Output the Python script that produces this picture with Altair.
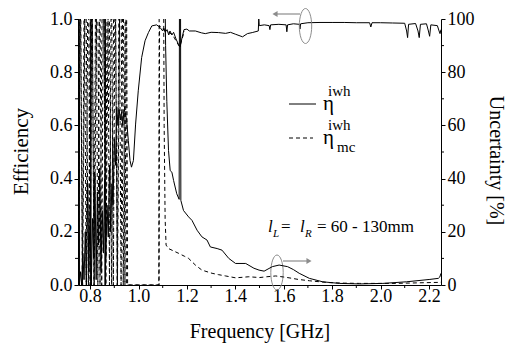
import altair as alt
import pandas as pd

W, H = 363, 266
FONT = "Liberation Serif, DejaVu Serif, serif"
GRAY = "#8c8c8c"

# ---------------- axis ticks ----------------
x_major = [0.8, 1.0, 1.2, 1.4, 1.6, 1.8, 2.0, 2.2]
x_minor = [0.9, 1.1, 1.3, 1.5, 1.7, 1.9, 2.1]
eff_major = [0.0, 0.2, 0.4, 0.6, 0.8, 1.0]
eff_minor = [0.1, 0.3, 0.5, 0.7, 0.9]
unc_major = [0, 20, 40, 60, 80, 100]
unc_minor = [10, 30, 50, 70, 90]

# ---------------- efficiency (solid) ----------------
eta_f = [0.750, 0.755, 0.760, 0.765, 0.770, 0.775, 0.780, 0.785, 0.790, 0.795,
         0.800, 0.805, 0.810, 0.815, 0.820, 0.825, 0.830, 0.835, 0.840, 0.845,
         0.850, 0.855, 0.860, 0.865, 0.870, 0.875, 0.880, 0.885, 0.890, 0.895,
         0.900, 0.905, 0.910, 0.915, 0.920, 0.925, 0.930, 0.935, 0.940, 0.945,
         0.951, 0.958, 0.965, 0.971, 0.979, 0.988, 0.999, 1.013, 1.027, 1.041,
         1.055, 1.075, 1.089, 1.100, 1.105, 1.110, 1.118, 1.125, 1.130, 1.138,
         1.145, 1.155, 1.165, 1.172, 1.180, 1.188, 1.200, 1.210, 1.235, 1.260,
         1.276, 1.300, 1.330, 1.360, 1.380, 1.400, 1.430, 1.450, 1.470, 1.495,
         1.497, 1.499, 1.520, 1.540, 1.543, 1.546, 1.580, 1.610, 1.613, 1.616,
         1.640, 1.665, 1.667, 1.670, 1.700, 1.750, 1.800, 1.850, 1.900, 1.955,
         1.960, 1.965, 2.000, 2.050, 2.100, 2.108, 2.112, 2.116, 2.145, 2.155,
         2.160, 2.165, 2.190, 2.198, 2.203, 2.208, 2.235, 2.242, 2.246, 2.250]
eta_v = [1.00, 0.00, 0.05, 0.00, 0.12, 0.02, 0.20, 0.00, 0.38, 0.05,
         0.30, 0.00, 0.25, 0.10, 0.42, 0.02, 0.35, 0.15, 0.44, 0.05,
         0.28, 0.12, 0.40, 0.10, 0.30, 0.18, 0.45, 0.20, 0.38, 0.30,
         0.55, 0.45, 0.67, 0.60, 0.66, 0.62, 0.65, 0.60, 0.66, 0.65,
         0.618, 0.543, 0.468, 0.443, 0.468, 0.605, 0.730, 0.855, 0.918, 0.949,
         0.974, 0.978, 0.968, 0.955, 0.965, 0.950, 0.960, 0.940, 0.955, 0.940,
         0.950, 0.925, 0.905, 0.895, 0.930, 0.960, 0.962, 0.955, 0.955, 0.948,
         0.945, 0.950, 0.949, 0.946, 0.950, 0.943, 0.933, 0.945, 0.949, 0.955,
         1.000, 0.975, 0.978, 0.975, 0.960, 0.978, 0.980, 0.978, 0.952, 0.978,
         0.982, 0.980, 0.962, 0.982, 0.986, 0.987, 0.987, 0.987, 0.986, 0.986,
         0.970, 0.986, 0.986, 0.985, 0.984, 0.955, 0.930, 0.980, 0.983, 0.955,
         0.930, 0.980, 0.982, 0.955, 0.935, 0.978, 0.975, 0.955, 0.945, 0.960]

# ---------------- efficiency mc (dashed) ----------------
etamc_f = [0.752, 0.760, 0.768, 0.776, 0.784, 0.792, 0.800, 0.808, 0.816, 0.824,
           0.832, 0.840, 0.848, 0.856, 0.864, 0.872, 0.880, 0.888, 0.896, 0.904,
           0.912, 0.920, 0.928, 0.936, 0.944, 0.950, 0.955, 1.085, 1.087, 1.100,
           1.120, 1.140, 1.160, 1.170, 1.190]
etamc_v = [0.0, 1.3, 0.0, 1.2, 0.0, 1.4, 0.0, 1.25, 0.0, 1.35,
           0.0, 1.2, 0.0, 1.3, 0.0, 1.4, 0.0, 1.25, 0.0, 1.3,
           0.0, 1.2, 0.0, 1.35, 0.0, 1.3, 0.0, 0.0, 0.975, 0.962,
           0.952, 0.942, 0.910, 0.895, 0.955]

# ---------------- uncertainty (solid) ----------------
unc_f = [0.750, 0.752, 0.755, 0.758, 0.800, 0.803, 0.806, 0.860, 0.862, 0.865,
         1.105, 1.112, 1.117, 1.124, 1.131, 1.138, 1.145, 1.158, 1.168, 1.170,
         1.173, 1.175, 1.186, 1.207, 1.221, 1.242, 1.262, 1.283, 1.297, 1.325,
         1.345, 1.373, 1.401, 1.443, 1.477, 1.498, 1.519, 1.553, 1.581, 1.616,
         1.640, 1.664, 1.706, 1.761, 1.830, 1.913, 2.010, 2.107, 2.204, 2.239,
         2.245, 2.250]
unc_v = [0, 150, 0, 150, 150, 0, 150, 150, 0, 150,
         150, 90, 69, 50.6, 43, 42.4, 39.3, 34.3, 32.2, 150,
         150, 31.8, 28, 25.6, 24.3, 20.6, 18.1, 16.9, 14.3, 13.7,
         13.1, 10, 8.1, 8.1, 6.3, 5.6, 5.2, 6.9, 7.5, 6.9,
         5.8, 4.4, 2.5, 1.2, 0.6, 0.4, 0.6, 1.2, 2.1, 2.5,
         3.0, 4.4]

# ---------------- uncertainty mc (dashed) ----------------
uncmc_f = [0.757, 0.769, 0.781, 0.793, 0.805, 0.817, 0.829, 0.841, 0.853, 0.865,
           0.877, 0.889, 0.901, 0.913, 0.925, 0.937, 0.947, 0.950, 1.084, 1.086,
           1.102, 1.106, 1.110, 1.114, 1.124, 1.145, 1.166, 1.190, 1.207, 1.235,
           1.262, 1.304, 1.330, 1.360, 1.401, 1.430, 1.456, 1.500, 1.530, 1.567,
           1.600, 1.622, 1.660, 1.706, 1.750, 1.789, 1.850, 1.913, 2.000, 2.060,
           2.150, 2.246, 2.250]
uncmc_v = [140, 0, 130, 0, 150, 0, 135, 0, 145, 0,
           130, 0, 150, 0, 140, 0, 130, 0, 0, 150,
           150, 60, 25, 15, 13.7, 12.8, 11.9, 10.8, 10, 7.5,
           5.6, 4.4, 3.9, 3.4, 2.7, 2.9, 3.1, 2.8, 3.1, 3.4,
           3.0, 2.7, 2.1, 1.6, 1.2, 0.9, 0.7, 0.6, 0.6, 0.6,
           0.8, 1.0, 1.1]

eta_df = pd.DataFrame({"f": eta_f, "v": eta_v})
etamc_df = pd.DataFrame({"f": etamc_f, "v": etamc_v})
unc_df = pd.DataFrame({"f": unc_f, "v": unc_v})
uncmc_df = pd.DataFrame({"f": uncmc_f, "v": uncmc_v})

xs = alt.Scale(domain=[0.75, 2.25], nice=False, zero=False)
es = alt.Scale(domain=[0, 1], nice=False, zero=False)
us = alt.Scale(domain=[0, 100], nice=False, zero=False)

x_axis = alt.Axis(values=x_major, format=".1f", title="Frequency [GHz]",
                  labelPadding=-2, titleBaseline="alphabetic", titleY=52)
left_axis = alt.Axis(orient="left", values=eff_major, format=".1f", title="Efficiency",
                     titleFontSize=21, titleAngle=270, titleX=-51, titleY=132,
                     titleBaseline="alphabetic", titleAlign="center")
right_axis = alt.Axis(orient="right", values=unc_major, format="d", title="Uncertainty [%]",
                      titleAngle=90, titleX=48, titleY=141,
                      titleBaseline="alphabetic", titleAlign="center")

DASH = [4, 3]

eta_line = alt.Chart(eta_df).mark_line(color="black", strokeWidth=1, clip=True).encode(
    x=alt.X("f:Q", scale=xs, axis=x_axis),
    y=alt.Y("v:Q", scale=es, axis=left_axis),
)
etamc_line = alt.Chart(etamc_df).mark_line(color="black", strokeWidth=1, strokeDash=DASH, clip=True).encode(
    x=alt.X("f:Q", scale=xs),
    y=alt.Y("v:Q", scale=es),
)
x_minor_ticks = alt.Chart(pd.DataFrame({"f": x_minor})).mark_rule(color="black", strokeWidth=1).encode(
    x=alt.X("f:Q", scale=xs),
    y=alt.value(H),
    y2=alt.value(H + 3),
)
left_minor_ticks = alt.Chart(pd.DataFrame({"v": eff_minor})).mark_rule(color="black", strokeWidth=1).encode(
    y=alt.Y("v:Q", scale=es),
    x=alt.value(0),
    x2=alt.value(-3),
)


def txt(s, x, y, size, style="normal", color="black", align="left"):
    return alt.Chart(pd.DataFrame({"t": [s]})).mark_text(
        font=FONT, fontSize=size, fontStyle=style, color=color, align=align,
        baseline="alphabetic"
    ).encode(x=alt.value(x), y=alt.value(y), text="t:N")


# legend
leg_solid = alt.Chart(pd.DataFrame({"a": [0]})).mark_rule(color="black", strokeWidth=1).encode(
    x=alt.value(211), x2=alt.value(238), y=alt.value(85))
leg_dash = alt.Chart(pd.DataFrame({"a": [0]})).mark_rule(color="black", strokeWidth=1, strokeDash=DASH).encode(
    x=alt.value(211), x2=alt.value(235), y=alt.value(119))

annotations = [
    leg_solid, leg_dash,
    txt("η", 245, 91, 21), txt("iwh", 250, 77, 15),
    txt("η", 245, 125, 21), txt("iwh", 250, 111, 15), txt("mc", 259, 133, 15),
    txt("l", 190, 213, 17, "italic"), txt("L", 195, 218, 11, "italic"),
    txt("=", 203, 213, 17),
    txt("l", 222, 213, 17, "italic"), txt("R", 227, 218, 11, "italic"),
    txt("= 60 - 130mm", 239, 213, 17),
]

ELLIPSE = "M 0 -1 A 0.354 1 0 1 1 0 1 A 0.354 1 0 1 1 0 -1 Z"


def ellipse(x, y):
    return alt.Chart(pd.DataFrame({"a": [0]})).mark_point(
        shape=ELLIPSE, size=1225, filled=False, color=GRAY, strokeWidth=1, opacity=1
    ).encode(x=alt.value(x), y=alt.value(y))


def arrow(x1, x2, y, head):
    line = alt.Chart(pd.DataFrame({"a": [0]})).mark_rule(color=GRAY, strokeWidth=1.2).encode(
        x=alt.value(x1), x2=alt.value(x2), y=alt.value(y))
    tip = alt.Chart(pd.DataFrame({"a": [0]})).mark_point(
        shape=head, size=35, filled=True, color=GRAY, opacity=1
    ).encode(x=alt.value(x2), y=alt.value(y))
    return [line, tip]


deco = [ellipse(227.5, 7), ellipse(199, 253.5)] + arrow(222, 197, -5, "triangle-left") + arrow(205, 231, 242, "triangle-right")

left = alt.layer(eta_line, etamc_line, x_minor_ticks, left_minor_ticks, *annotations, *deco)

unc_line = alt.Chart(unc_df).mark_line(color="black", strokeWidth=1, clip=True).encode(
    x=alt.X("f:Q", scale=xs),
    y=alt.Y("v:Q", scale=us, axis=right_axis),
)
uncmc_line = alt.Chart(uncmc_df).mark_line(color="black", strokeWidth=1, strokeDash=DASH, clip=True).encode(
    x=alt.X("f:Q", scale=xs),
    y=alt.Y("v:Q", scale=us),
)
right_minor_ticks = alt.Chart(pd.DataFrame({"v": unc_minor})).mark_rule(color="black", strokeWidth=1).encode(
    y=alt.Y("v:Q", scale=us),
    x=alt.value(W),
    x2=alt.value(W + 3),
)
right = alt.layer(unc_line, uncmc_line, right_minor_ticks)

chart = alt.layer(left, right).resolve_scale(y="independent").properties(
    width=W, height=H,
    autosize=alt.AutoSizeParams(type="none"),
    padding={"left": 78, "top": 19, "right": 76, "bottom": 60},
    background="white",
).configure_view(strokeWidth=0).configure_axis(
    grid=False, domainColor="black", tickColor="black", labelColor="black",
    titleColor="black", labelFont=FONT, titleFont=FONT, labelFontSize=18,
    titleFontSize=20, titleFontWeight="normal", tickSize=4, labelPadding=2,
    domainWidth=1, tickWidth=1,
)

chart.save("out.html", embed_options={"renderer": "svg", "actions": False})
